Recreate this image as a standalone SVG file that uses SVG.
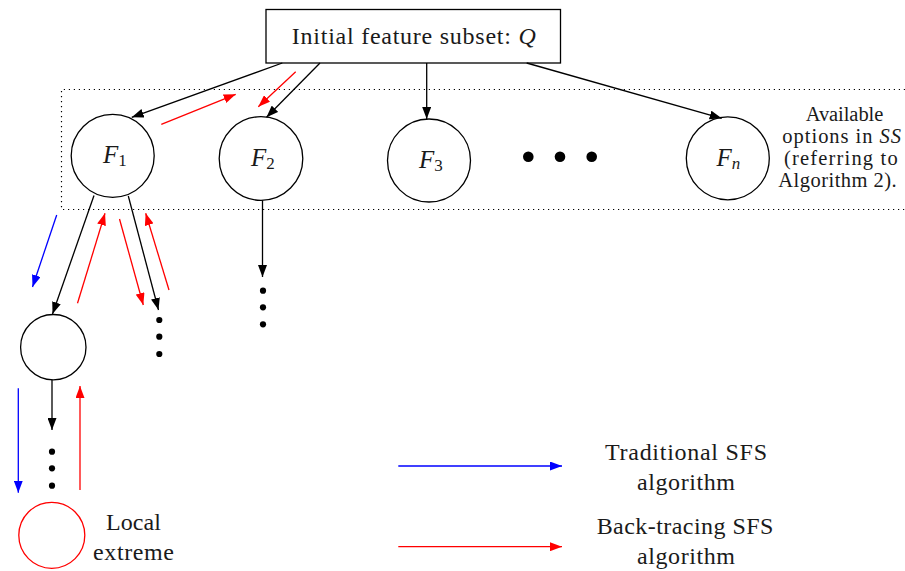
<svg xmlns="http://www.w3.org/2000/svg" width="905" height="571" viewBox="0 0 905 571" font-family="'Liberation Serif', 'DejaVu Serif', serif">
<style>
text{font-family:'Liberation Serif','Times New Roman','DejaVu Serif',serif;fill:#1a1a1a}
.k{stroke:#000;stroke-width:1.3;fill:none}
.r{stroke:#f00;stroke-width:1.3;fill:none}
.b{stroke:#00f;stroke-width:1.3;fill:none}
.node{stroke:#000;stroke-width:1.3;fill:#fff}
.dot{fill:#000}
.lbl{font-size:24px;text-anchor:middle}
.note{font-size:20.5px;text-anchor:middle}
.fl{font-size:25px;font-style:italic}
</style>
<defs>
<marker id="ak" markerUnits="userSpaceOnUse" markerWidth="12" markerHeight="9" refX="12" refY="4.5" orient="auto"><path d="M0,0 L12,4.5 L0,9 z" fill="#000"/></marker>
<marker id="ar" markerUnits="userSpaceOnUse" markerWidth="12" markerHeight="9" refX="12" refY="4.5" orient="auto"><path d="M0,0 L12,4.5 L0,9 z" fill="#f00"/></marker>
<marker id="ab" markerUnits="userSpaceOnUse" markerWidth="12" markerHeight="9" refX="12" refY="4.5" orient="auto"><path d="M0,0 L12,4.5 L0,9 z" fill="#00f"/></marker>
</defs>
<rect width="905" height="571" fill="#fff"/>

<g id="options-region">
<path d="M905,89.5 H61.5 V209.5 H905" fill="none" stroke="#000" stroke-width="1.2" stroke-dasharray="1.2 3.8"/>
<text class="note" x="844.5" y="120.5" textLength="77.6">Available</text>
<text class="note" x="841.7" y="143" textLength="118.7">options in <tspan font-style="italic">SS</tspan></text>
<text class="note" x="840.8" y="165" textLength="113.7">(referring to</text>
<text class="note" x="837.5" y="187" textLength="118.3">Algorithm 2).</text>
</g>

<g id="root">
<rect x="266" y="9.5" width="294.5" height="53.5" fill="#fff" stroke="#000" stroke-width="1.3"/>
<text class="lbl" x="413.8" y="43.5" textLength="244">Initial feature subset:  <tspan font-style="italic">Q</tspan></text>
</g>

<g id="F1">
<circle class="node" cx="112.7" cy="155.8" r="41.5"/>
<text class="fl" x="103" y="163">F<tspan font-size="17" font-style="normal" dy="3">1</tspan></text>
</g>
<g id="F2">
<circle class="node" cx="261" cy="158.5" r="41.8"/>
<text class="fl" x="251" y="166">F<tspan font-size="17" font-style="normal" dy="3">2</tspan></text>
</g>
<g id="F3">
<circle class="node" cx="429" cy="160.5" r="41.5"/>
<text class="fl" x="419" y="168">F<tspan font-size="17" font-style="normal" dy="3">3</tspan></text>
</g>
<g id="ellipsis-h">
<circle class="dot" cx="528.3" cy="156.7" r="5.3"/>
<circle class="dot" cx="560" cy="156.7" r="5.3"/>
<circle class="dot" cx="591.7" cy="156.7" r="5.3"/>
</g>
<g id="Fn">
<circle class="node" cx="727.8" cy="158.3" r="41.5"/>
<text class="fl" x="716.5" y="166">F<tspan font-size="17" dy="3">n</tspan></text>
</g>

<g id="child">
<circle class="node" cx="53.3" cy="347.2" r="32.7"/>
</g>
<g id="local-extreme">
<circle cx="51.8" cy="535.3" r="33" fill="#fff" stroke="#f00" stroke-width="1.3"/>
<text class="lbl" x="133.5" y="530" textLength="55">Local</text>
<text class="lbl" x="133.5" y="560" textLength="81">extreme</text>
</g>

<g id="ellipsis-v">
<circle class="dot" cx="159.3" cy="320" r="3.1"/>
<circle class="dot" cx="159.3" cy="336.7" r="3.1"/>
<circle class="dot" cx="159.3" cy="354" r="3.1"/>
<circle class="dot" cx="263" cy="290.7" r="3.1"/>
<circle class="dot" cx="263" cy="307.3" r="3.1"/>
<circle class="dot" cx="263" cy="324.3" r="3.1"/>
<circle class="dot" cx="52" cy="451.7" r="3.1"/>
<circle class="dot" cx="52" cy="468.3" r="3.1"/>
<circle class="dot" cx="52" cy="485.7" r="3.1"/>
</g>

<g id="legend">
<text class="lbl" x="686" y="460" textLength="162">Traditional SFS</text>
<text class="lbl" x="686" y="490" textLength="98">algorithm</text>
<text class="lbl" x="685" y="534" textLength="176.7">Back-tracing SFS</text>
<text class="lbl" x="686" y="564" textLength="98">algorithm</text>
</g>

<g id="connectors">
<line class="k" x1="282.3" y1="63" x2="131.7" y2="117.3" marker-end="url(#ak)"/>
<line class="k" x1="320" y1="63" x2="266.5" y2="117.3" marker-end="url(#ak)"/>
<line class="k" x1="426.7" y1="63" x2="426.7" y2="119" marker-end="url(#ak)"/>
<line class="k" x1="526.7" y1="63" x2="721.7" y2="118.3" marker-end="url(#ak)"/>
<line class="r" x1="161.3" y1="124.3" x2="235.7" y2="94.3" marker-end="url(#ar)"/>
<line class="r" x1="295.7" y1="71.7" x2="258.3" y2="106.7" marker-end="url(#ar)"/>

<line class="k" x1="94" y1="195.5" x2="52.5" y2="314" marker-end="url(#ak)"/>
<line class="k" x1="128.3" y1="196" x2="158.5" y2="310" marker-end="url(#ak)"/>
<line class="b" x1="56.7" y1="215" x2="32.5" y2="287" marker-end="url(#ab)"/>
<line class="r" x1="77.5" y1="303.3" x2="105" y2="213.3" marker-end="url(#ar)"/>
<line class="r" x1="119.5" y1="219" x2="143.3" y2="305" marker-end="url(#ar)"/>
<line class="r" x1="169" y1="290" x2="145.7" y2="213.3" marker-end="url(#ar)"/>
<line class="k" x1="262.5" y1="200.3" x2="262.5" y2="277" marker-end="url(#ak)"/>

<line class="k" x1="52" y1="380" x2="52" y2="430" marker-end="url(#ak)"/>
<line class="b" x1="18.3" y1="388.3" x2="18.3" y2="492.7" marker-end="url(#ab)"/>
<line class="r" x1="80" y1="490" x2="80" y2="386" marker-end="url(#ar)"/>

<line class="b" x1="398.3" y1="466" x2="562" y2="466" marker-end="url(#ab)"/>
<line class="r" x1="398.3" y1="546.7" x2="562" y2="546.7" marker-end="url(#ar)"/>
</g>
</svg>
